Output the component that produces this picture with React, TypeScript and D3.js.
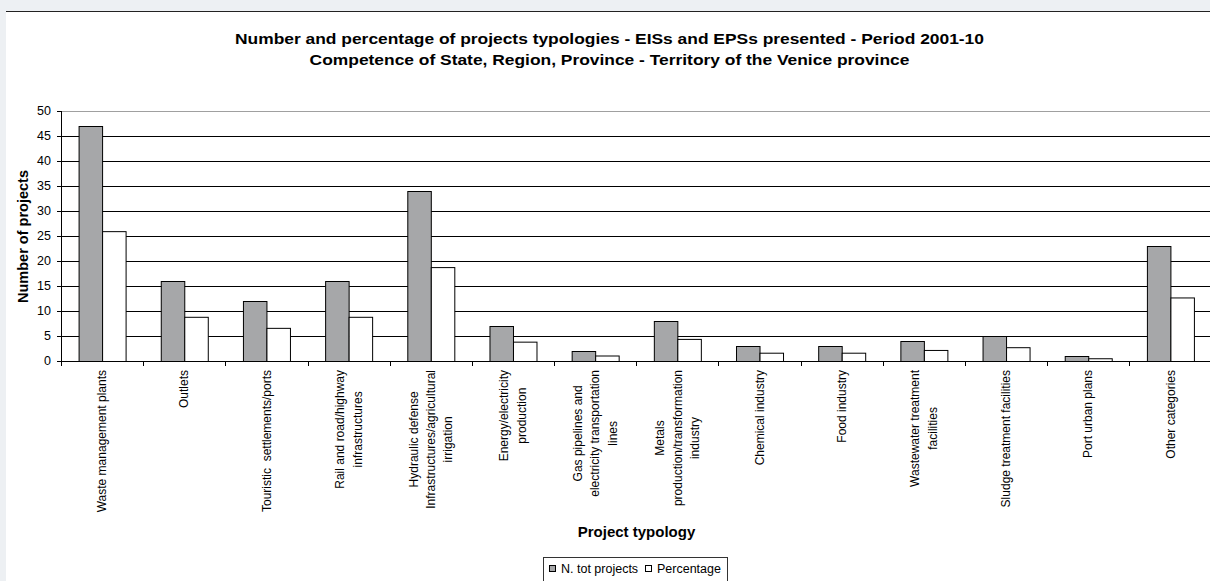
import React from "react";
import * as d3 from "d3";

const titleLines = [
  "Number and percentage of projects typologies - EISs and EPSs presented - Period 2001-10",
  "Competence of State, Region, Province - Territory of the Venice province",
];
const categoryLines: string[][] = [
  ["Waste management plants"],
  ["Outlets"],
  ["Touristic  settlements/ports"],
  ["Rail and road/highway", "infrastructures"],
  ["Hydraulic defense", "Infrastructures/agricultural", "irrigation"],
  ["Energy/electricity", "production"],
  ["Gas pipelines and", "electricity transportation", "lines"],
  ["Metals", "production/transformation", "industry"],
  ["Chemical industry"],
  ["Food industry"],
  ["Wastewater treatment", "facilities"],
  ["Sludge treatment facilities"],
  ["Port urban plans"],
  ["Other categories"],
];
const categories = categoryLines.map((l) => l.join(" "));
const totProjects = [47, 16, 12, 16, 34, 7, 2, 8, 3, 3, 4, 5, 1, 23];
const percentage = [25.97, 8.84, 6.63, 8.84, 18.78, 3.87, 1.1, 4.42, 1.66, 1.66, 2.21, 2.76, 0.55, 12.71];
const seriesNames = ["N. tot projects", "Percentage"];
const yTicks = [0, 5, 10, 15, 20, 25, 30, 35, 40, 45, 50];
const yTitle = "Number of projects";
const xTitle = "Project typology";

const FONT = "'Liberation Sans', Arial, sans-serif";
const GRAY = "#a6a7a9";

let ctx: CanvasRenderingContext2D | null = null;
function measure(text: string, font: string) {
  if (!ctx) ctx = document.createElement("canvas").getContext("2d");
  if (!ctx) return text.length * 6;
  ctx.font = font;
  return ctx.measureText(text).width;
}

export default function App() {
  const W = 1210;
  const H = 581;
  const plotL = 61;
  const plotR = 1211.5;
  const plotT = 111;
  const plotB = 361;

  const x0 = d3.scaleBand<string>().domain(categories).range([plotL, plotR]).paddingInner(0).paddingOuter(0);
  const bw = x0.bandwidth();
  const x1 = d3.scaleBand<string>().domain(seriesNames).range([bw * 0.214, bw * 0.786]).padding(0);
  const y = d3.scaleLinear().domain([0, 50]).range([plotB, plotT]);
  const values = [totProjects, percentage];
  const fills = [GRAY, "#ffffff"];

  const labelFont = `12px ${FONT}`;
  const lineGap = 17.5;

  return (
    <div style={{ position: "fixed", left: 0, top: 0, width: W, height: H, background: "#edf0f3" }}>
      <svg width={W} height={H} style={{ display: "block", fontFamily: FONT }}>
        <rect x={6} y={11} width={W - 6} height={H - 11} fill="#ffffff" />
        <line x1={6} x2={W} y1={11.5} y2={11.5} stroke="#222" strokeWidth={1} />

        {titleLines.map((t, i) => (
          <text key={i} x={609.5} y={44 + i * 21.5} textAnchor="middle" fontWeight="bold" fontSize={15}
            transform={`translate(609.5,0) scale(1.16,1) translate(-609.5,0)`} fill="#000">
            {t}
          </text>
        ))}

        {/* plot top border */}
        <line x1={plotL} x2={plotR} y1={plotT + 0.5} y2={plotT + 0.5} stroke="#a0a0a0" />
        {/* gridlines */}
        {yTicks.filter((t) => t > 0 && t < 50).map((t) => (
          <line key={t} x1={plotL} x2={plotR} y1={Math.round(y(t)) + 0.5} y2={Math.round(y(t)) + 0.5} stroke="#000" />
        ))}

        {/* bars */}
        {categories.map((c, i) => (
          <g key={c} transform={`translate(${x0(c)},0)`}>
            {seriesNames.map((s, k) => {
              const v = values[k][i];
              const top = y(v);
              return (
                <rect key={s} x={(x1(s) as number) + 0.5} y={top + 0.5} width={x1.bandwidth()} height={plotB - top}
                  fill={fills[k]} stroke="#000" strokeWidth={1} />
              );
            })}
          </g>
        ))}

        {/* axes */}
        <line x1={plotL + 0.5} x2={plotL + 0.5} y1={plotT} y2={plotB + 1} stroke="#000" />
        {yTicks.map((t) => (
          <g key={t}>
            <line x1={plotL - 4} x2={plotL} y1={Math.round(y(t)) + 0.5} y2={Math.round(y(t)) + 0.5} stroke="#000" />
            <text x={51} y={y(t)} dy="0.35em" textAnchor="end" fontSize={12.5} fill="#000">{t}</text>
          </g>
        ))}
        <line x1={plotL} x2={plotR} y1={plotB + 0.5} y2={plotB + 0.5} stroke="#000" />
        {categories.map((c) => (
          <line key={c} x1={Math.round(x0(c) as number) + 0.5} x2={Math.round(x0(c) as number) + 0.5}
            y1={plotB} y2={plotB + 5} stroke="#000" />
        ))}

        {/* x labels */}
        {categoryLines.map((lines, i) => {
          const cx = (x0(categories[i]) as number) + bw / 2;
          const maxW = Math.max(...lines.map((l) => measure(l, labelFont)));
          const n = lines.length;
          return (
            <g key={i} transform={`translate(${cx},370) rotate(-90)`}>
              {lines.map((l, j) => (
                <text key={j} x={-maxW / 2} y={(j - (n - 1) / 2) * lineGap} dy="0.35em" textAnchor="middle"
                  fontSize={12} fill="#000" style={{ whiteSpace: "pre" }}>
                  {l}
                </text>
              ))}
            </g>
          );
        })}

        {/* axis titles */}
        <text transform={`translate(23,236.5) rotate(-90)`} dy="0.35em" textAnchor="middle" fontWeight="bold" fontSize={14.5} fill="#000">
          {yTitle}
        </text>
        <text x={636.5} y={537} textAnchor="middle" fontWeight="bold" fontSize={15} fill="#000">
          {xTitle}
        </text>

        {/* legend */}
        <rect x={543.5} y={557.5} width={184} height={30} fill="#fff" stroke="#333" />
        {seriesNames.map((s, k) => {
          const lx = k === 0 ? 549 : 645;
          return (
            <g key={s}>
              <rect x={lx + 0.5} y={565.5} width={6} height={6} fill={fills[k]} stroke="#000" />
              <text x={lx + 12} y={568.5} dy="0.35em" fontSize={12.5} fill="#000">{s}</text>
            </g>
          );
        })}
      </svg>
    </div>
  );
}
